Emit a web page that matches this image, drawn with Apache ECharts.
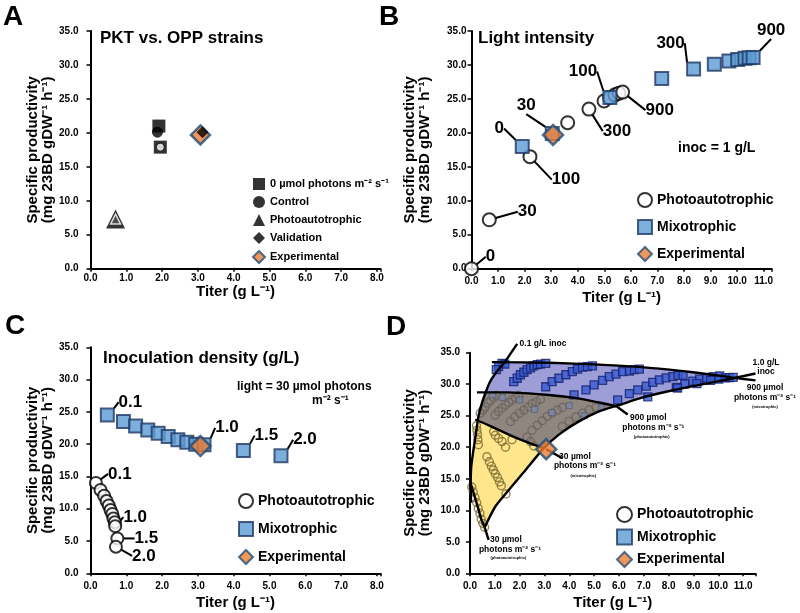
<!DOCTYPE html>
<html><head><meta charset="utf-8">
<script src="https://cdn.jsdelivr.net/npm/echarts@6/dist/echarts.min.js"></script>
<style>html,body{margin:0;padding:0;background:#fff}#c{width:800px;height:613px}</style>
</head><body><div id="c"></div>
<script>
// ---------------- DATA ----------------
// Panel A
const aZeroLight = [[1.91, 21.0], [1.95, 17.9]];
const aControl = [[1.87, 20.1]];
const aPhoto = [[0.70, 7.3]];
const aValidation = [[3.13, 20.1]];
const aInnerCircle = [[1.95, 17.9]];
const experimental = [[3.07, 19.7]];

// Panel B (light intensity)
const bPhoto = [[0, 0], [0.67, 7.2], [2.2, 16.5], [3.62, 21.5], [4.42, 23.5], [4.99, 24.7], [5.2, 25.2], [5.4, 25.6], [5.55, 25.85], [5.69, 26.0]];
const bPhotoLabels = ['0', '30', '100', '', '300', '', '', '', '', '900'];
const bMixo = [[1.91, 18.0], [3.04, 19.9], [5.21, 25.2], [7.16, 28.0], [8.36, 29.4], [9.14, 30.1], [9.69, 30.6], [10.02, 30.8], [10.29, 31.0], [10.45, 31.05], [10.6, 31.1]];
const bMixoLabels = ['0', '30', '100', '', '300', '', '', '', '', '', '900'];

// Panel C (inoculation density)
const cMixo = [[0.47, 24.5], [0.92, 23.5], [1.26, 22.8], [1.60, 22.2], [1.89, 21.7], [2.17, 21.2], [2.44, 20.7], [2.69, 20.3], [2.94, 20.0], [3.17, 19.9], [4.27, 19.0], [5.32, 18.2]];
const cMixoLabels = ['0.1', '', '', '', '', '', '', '', '', '1.0', '1.5', '2.0'];
const cPhoto = [[0.15, 14.0], [0.28, 12.9], [0.38, 12.0], [0.45, 11.2], [0.51, 10.5], [0.56, 9.8], [0.61, 9.2], [0.64, 8.5], [0.68, 7.9], [0.69, 7.3], [0.75, 5.4], [0.71, 4.1]];
const cPhotoLabels = ['0.1', '', '', '', '', '', '', '', '', '1.0', '1.5', '2.0'];

// Panel D (design space)
const dLeftCurve = [[0.04, 11.2], [0.03, 14.3], [0.05, 16.9], [0.14, 19.6], [0.24, 22.2], [0.34, 24.9], [0.48, 27.0], [0.64, 28.8], [0.78, 30.2], [1.02, 31.7], [1.40, 33.5]];
const dOneInocCurve = [[0.59, 7.3], [1.02, 10.6], [1.56, 13.2], [2.24, 16.4], [2.94, 19.7], [3.58, 22.0], [4.39, 24.1], [5.2, 25.7], [6.01, 26.7], [6.96, 27.9], [7.9, 28.8], [8.98, 29.7], [9.93, 30.4], [10.6, 30.95], [11.5, 31.7]];
const dPhoto30Row = [[0.0, 14.6], [0.07, 13.7], [0.2, 12.0], [0.33, 10.3], [0.45, 8.6], [0.59, 7.3]];
const dMixo30Row = [[0.21, 24.4], [0.8, 23.4], [1.56, 22.0], [2.3, 20.8], [2.98, 19.8]];
const dPhoto900Row = [[0.28, 28.7], [1.5, 28.7], [3.18, 28.3], [4.3, 27.8], [5.2, 27.1], [5.9, 26.5]];
const dMixo900Row = [[0.88, 33.5], [3.18, 33.4], [5.2, 33.1], [7.23, 32.6], [8.98, 31.9], [10.6, 31.05], [11.5, 30.6]];
const dLeaders = [
  [[1.40, 33.5], [1.9, 36.4]],
  [[5.9, 26.5], [6.35, 25.2]],
  [[3.07, 19.7], [3.72, 18.25]],
  [[0.59, 7.3], [0.75, 5.3]]
];
const dPhotoRegion = [[0.03, 14.3], [0.2, 12.0], [0.33, 10.3], [0.45, 8.6], [0.59, 7.3], [1.02, 10.6], [1.56, 13.2], [2.24, 16.4], [2.94, 19.7], [3.58, 22.0], [4.39, 24.1], [5.2, 25.7], [5.9, 26.5], [5.2, 27.1], [4.3, 27.8], [3.18, 28.3], [1.5, 28.7], [0.64, 28.8], [0.48, 27.0], [0.34, 24.9], [0.24, 22.2], [0.14, 19.6], [0.05, 16.9]];
const dMixoRegion = [[0.34, 24.4], [0.8, 23.4], [1.56, 22.0], [2.3, 20.8], [2.98, 19.8], [3.58, 22.0], [4.39, 24.1], [5.2, 25.7], [6.01, 26.7], [6.96, 27.9], [7.9, 28.8], [8.98, 29.7], [9.93, 30.4], [10.6, 31.0], [8.98, 31.9], [7.23, 32.6], [5.2, 33.1], [3.18, 33.4], [1.40, 33.5], [1.02, 31.7], [0.78, 30.2], [0.64, 28.8], [0.48, 27.0]];
const dOverlapRegion = [[0.34, 24.4], [0.8, 23.4], [1.56, 22.0], [2.3, 20.8], [2.98, 19.8], [3.58, 22.0], [4.39, 24.1], [5.2, 25.7], [5.9, 26.5], [5.2, 27.1], [4.3, 27.8], [3.18, 28.3], [1.5, 28.7], [0.64, 28.8], [0.48, 27.0]];
const dPhotoYellow = [[0.07, 13.7], [0.13, 12.9], [0.2, 12.0], [0.27, 11.2], [0.33, 10.3], [0.4, 9.5], [0.45, 8.6], [0.52, 7.9], [0.59, 7.3],
  [0.26, 23.4], [0.28, 22.7], [0.3, 22.0], [0.32, 21.2], [0.34, 20.4],
  [0.68, 18.5], [0.78, 17.7], [0.86, 17.0], [0.94, 16.4], [1.02, 15.8], [1.11, 15.2], [1.19, 14.5], [1.26, 13.9],
  [0.95, 22.5], [1.02, 21.9], [1.15, 21.4], [1.29, 20.9], [1.43, 20.0], [1.69, 21.2], [2.57, 20.2], [1.45, 12.6]];
const dPhotoGrey = [[0.41, 25.4], [0.52, 25.9], [0.61, 26.4], [0.72, 27.0], [0.83, 27.4], [0.95, 27.9], [1.06, 28.2],
  [1.02, 25.1], [1.15, 25.7], [1.29, 26.2], [1.43, 26.7], [1.56, 27.1], [1.69, 27.5], [1.83, 27.9], [1.96, 28.2],
  [1.63, 24.1], [1.80, 24.8], [1.99, 25.4], [2.17, 25.9], [2.34, 26.4], [2.5, 26.9], [2.67, 27.2], [2.84, 27.6],
  [2.5, 22.7], [2.71, 23.5], [2.91, 24.2], [3.11, 24.9], [3.31, 25.4], [3.52, 25.9], [3.72, 26.3],
  [3.72, 23.3], [3.99, 24.1], [4.26, 24.8], [4.53, 25.4], [4.8, 25.9], [5.07, 26.3], [2.30, 21.6], [2.44, 20.9]];
const dMixoGrey = [[0.9, 28.3], [1.3, 27.9], [2.0, 27.5], [2.6, 26.0], [3.3, 25.5], [4.0, 26.6], [4.6, 25.0], [5.3, 26.3]];
const dMixo = [[1.29, 33.3], [1.40, 33.2], [1.15, 32.8], [1.06, 32.3],
  [1.76, 30.4], [1.90, 30.95], [2.03, 31.5], [2.17, 31.9], [2.30, 32.3], [2.44, 32.6], [2.57, 32.9], [2.71, 33.1], [2.84, 33.2], [3.05, 33.3],
  [3.05, 29.6], [3.31, 30.4], [3.58, 30.95], [3.86, 31.5], [4.12, 32.0], [4.33, 32.4], [4.53, 32.7], [4.73, 32.8], [4.93, 32.9],
  [4.19, 28.3], [4.67, 29.1], [5.0, 29.9], [5.34, 30.6], [5.61, 31.2], [5.88, 31.6], [6.15, 32.0], [6.42, 32.1], [6.62, 32.3], [6.82, 32.4],
  [5.95, 27.5], [6.42, 28.5], [6.76, 29.1], [7.10, 29.7], [7.36, 30.3], [7.63, 30.7], [7.9, 31.0], [8.17, 31.2], [8.38, 31.4], [8.58, 31.4],
  [8.31, 29.5], [8.65, 30.0], [8.98, 30.5], [9.25, 30.8], [9.53, 31.0], [9.79, 31.2], [10.06, 31.3],
  [7.16, 28.0], [8.36, 29.4], [9.14, 30.1], [9.69, 30.6], [10.02, 30.8], [10.29, 31.0], [10.45, 31.05], [10.6, 31.1]];

// ---------------- LAYOUT / STYLE ----------------
const FF = '"Liberation Sans", Arial, Helvetica, sans-serif';
const BLACK = '#000';
const MIXO_FILL = '#5B9BD5', MIXO_BORDER = '#1F3864';
const EXP_FILL = '#ED7D31', EXP_BORDER = '#1F4E79';

// label centre offsets from the marker centre, in pixels
const bPhotoOffsets = [[19, -12], [38, -8], [36, 23], null, [28, 22], null, null, null, null, [37, 18]];
const bMixoOffsets = [[-23, -18], [-26, -28], [-27, -26], null, [-23, -26], null, null, null, null, null, [18, -27]];
const cMixoOffsets = [[23, -13], null, null, null, null, null, null, null, null, [23, -17], [23, -15], [24, -16]];
const cPhotoOffsets = [[24, -9], null, null, null, null, null, null, null, null, [20, -9], [29, 0], [28, 9]];

const legendNames = {
  A_sq: '0 µmol photons m⁻² s⁻¹', A_ctrl: 'Control', A_photo: 'Photoautotrophic', A_val: 'Validation', A_exp: 'Experimental',
  B_photo: 'Photoautotrophic', B_mixo: 'Mixotrophic', B_exp: 'Experimental',
  C_photo: 'Photoautotrophic', C_mixo: 'Mixotrophic', C_exp: 'Experimental',
  D_photo: 'Photoautotrophic', D_mixo: 'Mixotrophic', D_exp: 'Experimental'
};

function xAxisCfg(grid, max, labelMargin, nameGap) {
  return {
    type: 'value', gridIndex: grid, min: 0, max: max, interval: 1,
    name: 'Titer (g L⁻¹)', nameLocation: 'middle', nameGap: nameGap,
    nameTextStyle: { fontFamily: FF, fontWeight: 'bold', fontSize: 15, color: BLACK },
    axisLine: { show: true, onZero: false, lineStyle: { color: BLACK, width: 2 } },
    axisTick: { show: true, length: 3, lineStyle: { color: BLACK, width: 1.5 } },
    splitLine: { show: false },
    axisLabel: {
      margin: labelMargin, fontFamily: FF, fontWeight: 'bold', fontSize: 10, color: BLACK,
      formatter: v => (Math.abs(v - Math.round(v)) < 1e-6 ? v.toFixed(1) : '')
    }
  };
}
function yAxisCfg(grid, labelMargin, nameGap) {
  return {
    type: 'value', gridIndex: grid, min: 0, max: 35, interval: 5,
    name: 'Specific productivity\n(mg 23BD gDW⁻¹ h⁻¹)', nameLocation: 'middle', nameGap: nameGap,
    nameTextStyle: { fontFamily: FF, fontWeight: 'bold', fontSize: 15, color: BLACK, lineHeight: 15 },
    axisLine: { show: true, onZero: false, lineStyle: { color: BLACK, width: 2 } },
    axisTick: { show: true, length: 4, lineStyle: { color: BLACK, width: 1.5 } },
    splitLine: { show: false },
    axisLabel: { margin: labelMargin, fontFamily: FF, fontWeight: 'bold', fontSize: 10, color: BLACK, formatter: v => v.toFixed(1) }
  };
}

function scatter(name, gi, data, symbol, size, style, z) {
  return { name, type: 'scatter', xAxisIndex: gi, yAxisIndex: gi, data, symbol, symbolSize: size, itemStyle: style, z: z || 3, silent: true };
}
function labelled(s, labels, offsets, fontSize) {
  s.data = s.data.map((p, i) => ({ value: p, label: { show: !!labels[i] }, labelLine: { show: !!labels[i] } }));
  s.label = { show: true, position: 'right', distance: 0, formatter: p => labels[p.dataIndex], fontFamily: FF, fontWeight: 'bold', fontSize: fontSize, color: BLACK, textBorderWidth: 0, opacity: 1 };
  s.labelLayout = p => {
    const o = offsets[p.dataIndex];
    if (!o) return {};
    return { x: p.rect.x + p.rect.width / 2 + o[0], y: p.rect.y + p.rect.height / 2 + o[1], align: 'center', verticalAlign: 'middle' };
  };
  s.labelLine = { show: true, smooth: false, lineStyle: { color: BLACK, width: 2, opacity: 1 } };
  return s;
}
function region(points, color, z) {
  return {
    type: 'custom', xAxisIndex: 3, yAxisIndex: 3, z: z, silent: true, clip: false, data: [[0, 0]],
    renderItem: (params, api) => ({ type: 'polygon', shape: { points: points.map(p => api.coord(p)) }, style: { fill: color } })
  };
}
function dLine(pts, smooth) {
  return { type: 'line', xAxisIndex: 3, yAxisIndex: 3, data: pts, showSymbol: false, symbol: 'none', clip: false, z: 6, silent: true,
    smooth: smooth || false, lineStyle: { color: BLACK, width: 2.4 } };
}

const photoStyle = { color: '#fff', borderColor: BLACK, borderWidth: 2 };
const mixoStyle = { color: MIXO_FILL, borderColor: MIXO_BORDER, borderWidth: 2 };
const expStyle = { color: EXP_FILL, borderColor: EXP_BORDER, borderWidth: 2.5 };

const series = [
  // A
  scatter('A_photo', 0, aPhoto, 'triangle', 19, { color: BLACK }),
  scatter('A_photo_in', 0, aPhoto, 'triangle', 10, { color: '#555', borderColor: '#fff', borderWidth: 1.5 }, 4),
  scatter('A_sq', 0, aZeroLight, 'rect', 13, { color: BLACK }),
  scatter('A_inner', 0, aInnerCircle, 'circle', 8, { color: '#fff', borderColor: '#000', borderWidth: 1 }, 4),
  scatter('A_ctrl', 0, aControl, 'circle', 11, { color: BLACK }, 4),
  scatter('A_exp', 0, experimental, 'diamond', 19, expStyle, 5),
  scatter('A_val', 0, aValidation, 'diamond', 12, { color: BLACK }, 6),
  // B
  labelled(scatter('B_photo', 1, bPhoto, 'circle', 13, photoStyle, 3), bPhotoLabels, bPhotoOffsets, 17),
  labelled(scatter('B_mixo', 1, bMixo, 'rect', 13, mixoStyle, 4), bMixoLabels, bMixoOffsets, 17),
  scatter('B_exp', 1, experimental, 'diamond', 20, expStyle, 5),
  // C
  labelled(scatter('C_photo', 2, cPhoto, 'circle', 12, photoStyle, 3), cPhotoLabels, cPhotoOffsets, 17),
  labelled(scatter('C_mixo', 2, cMixo, 'rect', 13, mixoStyle, 4), cMixoLabels, cMixoOffsets, 17),
  scatter('C_exp', 2, experimental, 'diamond', 20, expStyle, 5),
  // D
  region(dPhotoRegion, '#FFE68C', 1),
  region(dMixoRegion, '#9D9DD8', 1),
  region(dOverlapRegion, '#8F8680', 1),
  scatter('D_photo', 3, dPhotoYellow, 'circle', 8, { color: 'rgba(0,0,0,0)', borderColor: '#7B6A2E', borderWidth: 1.4 }, 3),
  scatter('D_photo_g', 3, dPhotoGrey, 'circle', 8, { color: 'rgba(0,0,0,0)', borderColor: '#6A645E', borderWidth: 1.4 }, 3),
  scatter('D_mixo_g', 3, dMixoGrey, 'rect', 6, { color: '#7C86A6', borderColor: '#5A6078', borderWidth: 1 }, 4),
  scatter('D_mixo', 3, dMixo, 'rect', 8, { color: '#3A5BD0', borderColor: '#14206E', borderWidth: 1.3 }, 4),
  dLine(dLeftCurve, 0.2), dLine(dOneInocCurve, 0.2), dLine(dPhoto30Row, 0.2), dLine(dMixo30Row, 0.2), dLine(dPhoto900Row, 0.2), dLine(dMixo900Row, 0.2),
  ...dLeaders.map(l => dLine(l)),
  scatter('D_exp', 3, experimental, 'diamond', 20, expStyle, 8)
];

function legendCfg(items, left, top, iw, gap, fs) {
  return {
    data: items, orient: 'vertical', left, top, itemWidth: iw, itemHeight: iw, itemGap: gap, padding: 0,
    selectedMode: false, formatter: n => legendNames[n],
    textStyle: { fontFamily: FF, fontWeight: 'bold', fontSize: fs, color: BLACK, lineHeight: fs }
  };
}
const legPhoto = n => ({ name: n, icon: 'circle', itemStyle: { color: '#fff', borderColor: BLACK, borderWidth: 2 } });
const legMixo = n => ({ name: n, icon: 'rect', itemStyle: { color: MIXO_FILL, borderColor: MIXO_BORDER, borderWidth: 2 } });
const legExp = n => ({ name: n, icon: 'diamond', itemStyle: { color: EXP_FILL, borderColor: EXP_BORDER, borderWidth: 2 } });

const legends = [
  legendCfg([
    { name: 'A_sq', icon: 'rect', itemStyle: { color: BLACK, borderWidth: 0 } },
    { name: 'A_ctrl', icon: 'circle', itemStyle: { color: BLACK, borderWidth: 0 } },
    { name: 'A_photo', icon: 'triangle', itemStyle: { color: BLACK, borderWidth: 0 } },
    { name: 'A_val', icon: 'diamond', itemStyle: { color: BLACK, borderWidth: 0 } },
    legExp('A_exp')], 252, 178, 12, 6, 11),
  legendCfg([legPhoto('B_photo'), legMixo('B_mixo'), legExp('B_exp')], 637, 192, 14, 11, 14),
  legendCfg([legPhoto('C_photo'), legMixo('C_mixo'), legExp('C_exp')], 238, 493, 14, 12, 14),
  legendCfg([legPhoto('D_photo'), legMixo('D_mixo'), legExp('D_exp')], 616, 506, 15, 5.5, 14)
];

function T(text, x, y, size, align) {
  align = align || 'left';
  return { type: 'text', x, y, silent: true, z: 100,
    style: { text, font: 'bold ' + size + 'px ' + FF, fill: BLACK, textAlign: align, textVerticalAlign: 'middle', align: align, verticalAlign: 'middle' } };
}
const graphics = [
  T('A', 3, 17, 28), T('B', 379, 17, 28), T('C', 5, 326, 28), T('D', 386, 327, 28),
  T('PKT vs. OPP strains', 100, 38.5, 17),
  T('Light intensity', 478, 38, 17),
  T('inoc = 1 g/L', 678, 148, 14),
  T('Inoculation density (g/L)', 103, 358.5, 17),
  T('light = 30 µmol photons', 237, 386.5, 12),
  T('m⁻² s⁻¹', 312, 400.5, 12),
  T('0.1 g/L inoc', 543, 343.3, 8.5, 'center'),
  T('1.0 g/L', 766, 362.7, 8.5, 'center'), T('inoc', 766, 371.7, 8.5, 'center'),
  T('900 µmol', 765, 387.3, 8.5, 'center'), T('photons m⁻² s⁻¹', 765, 397.3, 8.5, 'center'), T('(mixotrophic)', 765, 406.5, 4, 'center'),
  T('900 µmol', 648.3, 417.7, 8.5, 'center'), T('photons m⁻² s⁻¹', 653.3, 427.3, 8.5, 'center'), T('(photoautotrophic)', 651.7, 436.7, 4, 'center'),
  T('30 µmol', 575, 456.7, 8.5, 'center'), T('photons m⁻² s⁻¹', 585, 466, 8.5, 'center'), T('(mixotrophic)', 583.3, 475.7, 4, 'center'),
  T('30 µmol', 506, 540, 8.5, 'center'), T('photons m⁻² s⁻¹', 510, 550, 8.5, 'center'), T('(photoautotrophic)', 508.3, 558.3, 4, 'center')
];

const chart = echarts.init(document.getElementById('c'), null, { renderer: 'canvas', width: 800, height: 613 });
chart.setOption({
  animation: false,
  backgroundColor: '#fff',
  textStyle: { fontFamily: FF },
  grid: [
    { left: 90.5, top: 31, width: 290, height: 237.7, outerBoundsMode: 'none' },
    { left: 471.5, top: 31, width: 300.2, height: 237.7, outerBoundsMode: 'none' },
    { left: 90.5, top: 347.3, width: 290, height: 226, outerBoundsMode: 'none' },
    { left: 470, top: 352.7, width: 285.5, height: 220.6, outerBoundsMode: 'none' }
  ],
  xAxis: [xAxisCfg(0, 8.1, 5, 13), xAxisCfg(1, 11.3, 8, 22), xAxisCfg(2, 8.1, 8, 22), xAxisCfg(3, 11.5, 8, 22)],
  yAxis: [yAxisCfg(0, 12, 35.5), yAxisCfg(1, 5, 39), yAxisCfg(2, 12, 35.5), yAxisCfg(3, 10, 38)],
  legend: legends,
  series: series,
  graphic: graphics
});
</script></body></html>
